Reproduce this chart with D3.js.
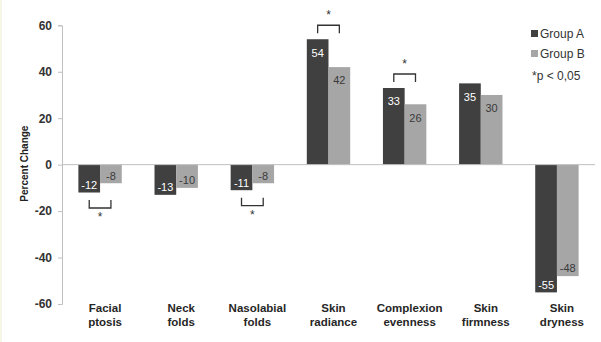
<!DOCTYPE html>
<html>
<head>
<meta charset="utf-8">
<script src="https://cdn.jsdelivr.net/npm/d3@7"></script>
<style>
  html, body { margin: 0; padding: 0; background: #ffffff; }
  svg { display: block; }
</style>
</head>
<body>
<script>
// Percent change per skin parameter, two study groups
const categories = [
  ["Facial", "ptosis"],
  ["Neck", "folds"],
  ["Nasolabial", "folds"],
  ["Skin", "radiance"],
  ["Complexion", "evenness"],
  ["Skin", "firmness"],
  ["Skin", "dryness"]
];
const groupA = [-12, -13, -11, 54, 33, 35, -55];
const groupB = [-8, -10, -8, 42, 26, 30, -48];
const seriesNames = ["Group A", "Group B"];
// Categories with a significant difference between groups (p < 0.05)
const significant = [0, 2, 3, 4];
const yTicks = [-60, -40, -20, 0, 20, 40, 60];
const noteText = "*p < 0,05";

const W = 601, H = 342;
const colA = "#404040", colB = "#a6a6a6";

const svg = d3.select("body").append("svg")
  .attr("width", W).attr("height", H);

svg.append("rect").attr("width", W).attr("height", H).attr("fill", "#fff");
svg.append("rect").attr("x", 0).attr("y", 0).attr("width", 2).attr("height", H).attr("fill", "#f7f7e8");

const x = d3.scaleBand().domain(d3.range(categories.length)).range([62, 595]).padding(0);
const y = d3.scaleLinear().domain([-60, 60]).range([304, 25.3]);

const barW = x.bandwidth() * 0.285;

// y axis
const yAxis = d3.axisLeft(y).tickValues(yTicks).tickSize(4).tickPadding(6).tickFormat(d => String(d));
const gy = svg.append("g").attr("transform", "translate(62,0)").call(yAxis);
gy.select(".domain").attr("stroke", "#bfbfbf");
gy.selectAll(".tick line").attr("stroke", "#bfbfbf");
gy.selectAll(".tick text")
  .attr("fill", "#333")
  .style("font-family", "Liberation Sans, Arial, sans-serif")
  .style("font-size", "12px")
  .style("font-weight", "bold");

// y axis title
svg.append("text")
  .attr("transform", `translate(28,${y(0) - 1}) rotate(-90)`)
  .attr("text-anchor", "middle")
  .attr("fill", "#222")
  .style("font-family", "Liberation Sans, Arial, sans-serif")
  .style("font-size", "10px")
  .style("font-weight", "bold")
  .text("Percent Change");

// bars
const rows = categories.map((c, i) => ({ i, a: groupA[i], b: groupB[i] }));
const series = [
  { key: "a", color: colA, text: "#ffffff", off: 0 },
  { key: "b", color: colB, text: "#3a3a3a", off: 1 }
];

series.forEach(s => {
  const g = svg.append("g");
  g.selectAll("rect").data(rows).join("rect")
    .attr("x", d => x(d.i) + x.bandwidth() / 2 - barW + s.off * barW)
    .attr("width", barW)
    .attr("y", d => y(Math.max(0, d[s.key])))
    .attr("height", d => Math.abs(y(d[s.key]) - y(0)))
    .attr("fill", s.color);
  g.selectAll("text").data(rows).join("text")
    .attr("x", d => x(d.i) + x.bandwidth() / 2 - barW / 2 + s.off * barW)
    .attr("y", d => d[s.key] >= 0 ? y(d[s.key]) + 13.5 : y(d[s.key]) - 7.5)
    .attr("dy", "0.35em")
    .attr("text-anchor", "middle")
    .attr("fill", s.text)
    .style("font-family", "Liberation Sans, Arial, sans-serif")
    .style("font-size", "11px")
    .text(d => d[s.key]);
});

// zero line
svg.append("line")
  .attr("x1", 62).attr("x2", 595)
  .attr("y1", y(0)).attr("y2", y(0))
  .attr("stroke", "#bfbfbf").attr("stroke-width", 1);

// significance brackets
significant.forEach(i => {
  const xa = x(i) + x.bandwidth() / 2 - barW / 2;
  const xb = x(i) + x.bandwidth() / 2 + barW / 2;
  const a = groupA[i], b = groupB[i];
  const g = svg.append("g").attr("fill", "none").attr("stroke", "#333").attr("stroke-width", 1.3);
  let starY;
  if (a >= 0) {
    const top = y(Math.max(a, b)) - 14;
    g.append("path").attr("d", `M${xa},${top + 8}V${top}H${xb}V${top + 8}`);
    starY = top - 6;
  } else {
    const bot = y(Math.min(a, b)) + 15.5;
    g.append("path").attr("d", `M${xa},${bot - 8}V${bot}H${xb}V${bot - 8}`);
    starY = bot + 13;
  }
  svg.append("text")
    .attr("x", (xa + xb) / 2).attr("y", starY)
    .attr("text-anchor", "middle")
    .attr("fill", "#333")
    .style("font-family", "Liberation Sans, Arial, sans-serif")
    .style("font-size", "12px")
    .text("*");
});

// category labels
const gx = svg.append("g");
categories.forEach((c, i) => {
  const t = gx.append("text")
    .attr("x", x(i) + x.bandwidth() / 2 + 5)
    .attr("y", 312)
    .attr("text-anchor", "middle")
    .attr("fill", "#262626")
    .style("font-family", "Liberation Sans, Arial, sans-serif")
    .style("font-size", "11.5px")
    .style("font-weight", "bold");
  c.forEach((line, k) => {
    t.append("tspan").attr("x", x(i) + x.bandwidth() / 2 + 5).attr("dy", k === 0 ? 0 : 14).text(line);
  });
});

// legend
const legend = svg.append("g").attr("transform", "translate(531,0)");
[colA, colB].forEach((col, k) => {
  legend.append("rect").attr("x", 0).attr("y", 30 + k * 20).attr("width", 7).attr("height", 7).attr("fill", col);
  legend.append("text")
    .attr("x", 9).attr("y", 37.5 + k * 20)
    .attr("fill", "#333")
    .style("font-family", "Liberation Sans, Arial, sans-serif")
    .style("font-size", "12px")
    .text(seriesNames[k]);
});
legend.append("text")
  .attr("x", 1).attr("y", 80)
  .attr("fill", "#333")
  .style("font-family", "Liberation Sans, Arial, sans-serif")
  .style("font-size", "12px")
  .text(noteText);
</script>
</body>
</html>
